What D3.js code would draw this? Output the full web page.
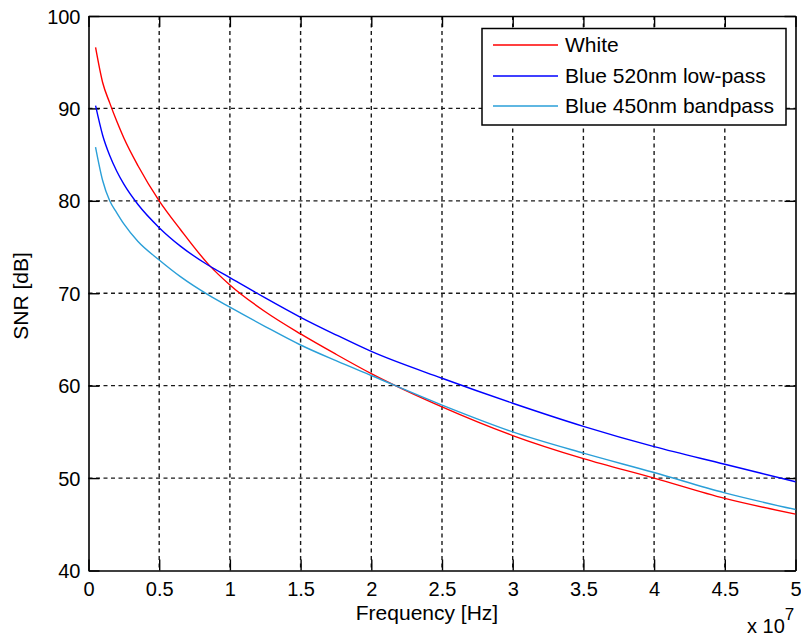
<!DOCTYPE html>
<html>
<head>
<meta charset="utf-8">
<script src="https://cdn.jsdelivr.net/npm/d3@7"></script>
<style>
  html, body { margin: 0; padding: 0; background: #fff; }
  svg { display: block; }
  text { font-family: "Liberation Sans", Arial, Helvetica, sans-serif; fill: #000; }
</style>
</head>
<body>
<svg id="chart" width="801" height="639"></svg>
<script>
// Frequency samples, in units of 1e7 Hz
const freq = [0.05, 0.1, 0.15, 0.2, 0.25, 0.35, 0.5, 0.65, 0.85, 1.0, 1.25, 1.5, 1.75, 2.0, 2.5, 3.0, 3.5, 4.0, 4.5, 5.0];

// SNR [dB] for each light source
const snrWhite   = [96.6, 92.8, 90.6, 88.6, 86.8, 83.8, 80.0, 76.9, 73.1, 70.9, 68.0, 65.6, 63.4, 61.3, 57.7, 54.6, 52.1, 50.0, 47.8, 46.1];
const snrBlue520 = [90.3, 87.1, 84.9, 83.2, 81.8, 79.6, 77.1, 75.1, 73.0, 71.7, 69.5, 67.4, 65.5, 63.7, 60.8, 58.1, 55.6, 53.4, 51.5, 49.6];
const snrBlue450 = [85.8, 82.2, 80.0, 78.7, 77.5, 75.6, 73.6, 71.8, 69.8, 68.5, 66.4, 64.4, 62.7, 61.1, 57.9, 55.0, 52.7, 50.6, 48.4, 46.6];

const seriesNames  = ["White", "Blue 520nm low-pass", "Blue 450nm bandpass"];
const seriesColors = ["#ff0000", "#0000ff", "#2a9fd8"];

const xTicks = [0, 0.5, 1, 1.5, 2, 2.5, 3, 3.5, 4, 4.5, 5];
const yTicks = [40, 50, 60, 70, 80, 90, 100];
const xLabel = "Frequency [Hz]";
const yLabel = "SNR [dB]";

const series = [snrWhite, snrBlue520, snrBlue450].map((vals, i) => ({
  name: seriesNames[i],
  color: seriesColors[i],
  points: freq.map((f, j) => [f, vals[j]])
}));

const svg = d3.select("#chart");
const plot = { left: 88.5, right: 795.5, top: 16, bottom: 570.5 };
const x = d3.scaleLinear().domain([0, 5]).range([plot.left, plot.right]);
const y = d3.scaleLinear().domain([40, 100]).range([plot.bottom, plot.top]);

const tickLen = 11;
const tickFont = 20;
const labelFont = 21;

// Dashed grid
const grid = svg.append("g").attr("stroke", "#1a1a1a").attr("stroke-width", 1.4).attr("stroke-dasharray", "4,3.5");
grid.selectAll("line.gx").data(xTicks.filter(t => t > 0 && t < 5)).join("line")
  .attr("class", "gx")
  .attr("x1", d => x(d)).attr("x2", d => x(d)).attr("y1", plot.top).attr("y2", plot.bottom);
grid.selectAll("line.gy").data(yTicks.filter(t => t > 40 && t < 100)).join("line")
  .attr("class", "gy")
  .attr("x1", plot.left).attr("x2", plot.right).attr("y1", d => y(d)).attr("y2", d => y(d));

// Axes with inward ticks on all four sides
const axFmt = d3.format("");
const axB = svg.append("g").attr("transform", `translate(0,${plot.bottom})`)
  .call(d3.axisBottom(x).tickValues(xTicks).tickFormat(axFmt).tickSizeInner(-tickLen).tickSizeOuter(0));
const axT = svg.append("g").attr("transform", `translate(0,${plot.top})`)
  .call(d3.axisTop(x).tickValues(xTicks).tickFormat("").tickSizeInner(-tickLen).tickSizeOuter(0));
const axL = svg.append("g").attr("transform", `translate(${plot.left},0)`)
  .call(d3.axisLeft(y).tickValues(yTicks).tickFormat(axFmt).tickSizeInner(-tickLen).tickSizeOuter(0));
const axR = svg.append("g").attr("transform", `translate(${plot.right},0)`)
  .call(d3.axisRight(y).tickValues(yTicks).tickFormat("").tickSizeInner(-tickLen).tickSizeOuter(0));

[axB, axT, axL, axR].forEach(g => {
  g.selectAll(".domain").attr("stroke", "#000").attr("stroke-width", 1.6);
  g.selectAll(".tick line").attr("stroke", "#000").attr("stroke-width", 1.4);
  g.selectAll(".tick text").attr("font-size", tickFont).attr("font-family", "Liberation Sans, Arial, sans-serif").attr("fill", "#000");
});
axB.selectAll(".tick text").attr("y", 11).attr("dy", "0.71em");
axL.selectAll(".tick text").attr("x", -8).attr("dy", "0.35em");

// Data lines
const line = d3.line().x(d => x(d[0])).y(d => y(d[1])).curve(d3.curveMonotoneX);
svg.append("g").selectAll("path").data(series).join("path")
  .attr("d", d => line(d.points))
  .attr("fill", "none")
  .attr("stroke", d => d.color)
  .attr("stroke-width", 1.4);

// Axis titles
svg.append("text").attr("x", 427).attr("y", 620)
  .attr("text-anchor", "middle").attr("font-size", labelFont).text(xLabel);
svg.append("text").attr("transform", `translate(28,296) rotate(-90)`)
  .attr("text-anchor", "middle").attr("font-size", labelFont).text(yLabel);

// Exponent of the x axis
const expo = svg.append("text").attr("x", 747).attr("y", 633).attr("font-size", tickFont);
expo.append("tspan").text("x 10");
expo.append("tspan").attr("dy", -13).attr("font-size", 17).text("7");

// Legend
const lg = svg.append("g");
lg.append("rect").attr("x", 482).attr("y", 28.5).attr("width", 304).attr("height", 96.5)
  .attr("fill", "#fff").attr("stroke", "#000").attr("stroke-width", 1.5);
const rowY = [45, 76, 106];
series.forEach((s, i) => {
  lg.append("line").attr("x1", 493).attr("x2", 558).attr("y1", rowY[i]).attr("y2", rowY[i])
    .attr("stroke", s.color).attr("stroke-width", 1.4);
  lg.append("text").attr("x", 565).attr("y", rowY[i]).attr("dy", "0.35em")
    .attr("font-size", labelFont).text(s.name);
});
</script>
</body>
</html>
